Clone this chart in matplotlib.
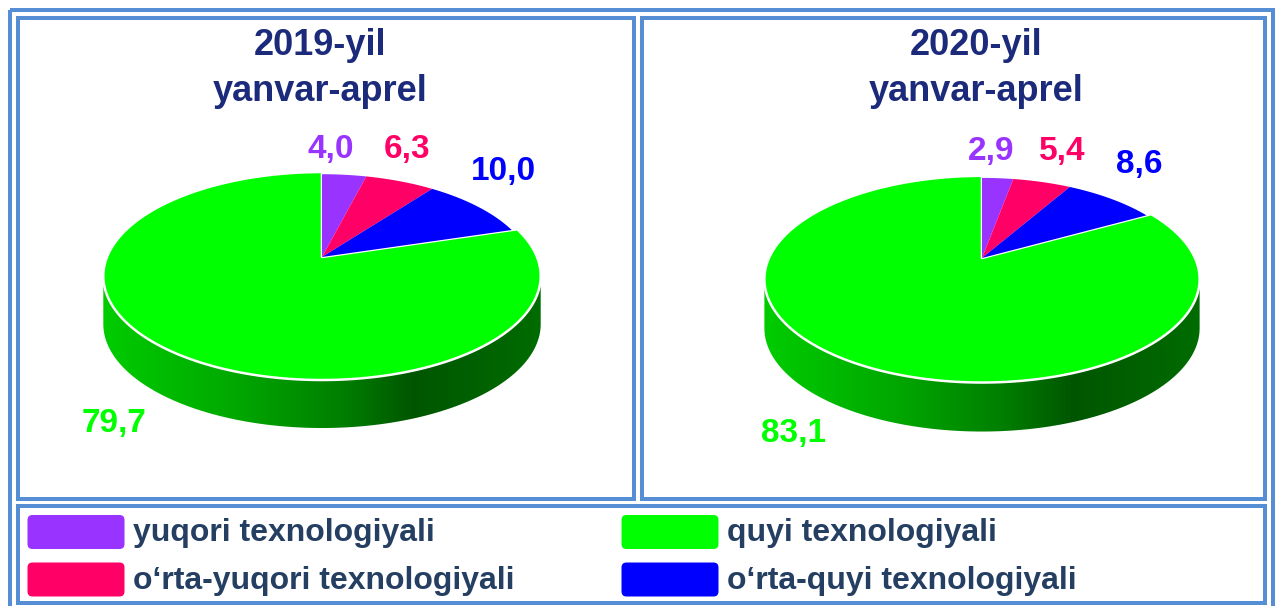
import numpy as np
import matplotlib
matplotlib.use("Agg")
import matplotlib.pyplot as plt
from matplotlib.patches import Rectangle, Polygon, FancyBboxPatch
from matplotlib.colors import LinearSegmentedColormap
from matplotlib import font_manager

# ---------------- data ----------------
categories = ["yuqori texnologiyali", "o‘rta-yuqori texnologiyali",
              "o‘rta-quyi texnologiyali", "quyi texnologiyali"]
values_2019 = [4.0, 6.3, 10.0, 79.7]
values_2020 = [2.9, 5.4, 8.6, 83.1]
labels_2019 = ["4,0", "6,3", "10,0", "79,7"]
labels_2020 = ["2,9", "5,4", "8,6", "83,1"]
titles = ["2019-yil\nyanvar-aprel", "2020-yil\nyanvar-aprel"]
slice_colors = ["#9933FF", "#FF0066", "#0000FF", "#00FF00"]
legend_order = [0, 3, 1, 2]  # (row1: yuqori, quyi) (row2: o'rta-yuqori, o'rta-quyi)

# ---------------- fonts ----------------
avail = {f.name for f in font_manager.fontManager.ttflist}
narrow = "Liberation Sans Narrow" if "Liberation Sans Narrow" in avail else "Liberation Sans"
main_font = "Liberation Sans" if "Liberation Sans" in avail else "DejaVu Sans"

W, H = 1275, 606
fig = plt.figure(figsize=(W / 100, H / 100), dpi=100)
ax = fig.add_axes([0, 0, 1, 1])
ax.set_xlim(0, W)
ax.set_ylim(H, 0)
ax.axis("off")

border_c = "#558ED5"
lw = 4 * 72 / 100


def frame(x0, y0, x1, y1):
    ax.add_patch(Rectangle((x0, y0), x1 - x0, y1 - y0, fill=False,
                           edgecolor=border_c, linewidth=lw, zorder=1))


frame(10, 10, 1273, 609)
frame(18, 17.5, 634, 499)
frame(642, 17.5, 1265, 499)
frame(18, 506, 1265, 603)

side_cmap = LinearSegmentedColormap.from_list(
    "side", [(0.0, "#00CC00"), (0.3, "#00A800"), (0.55, "#007E00"),
             (0.71, "#005600"), (1.0, "#006C00")])


def draw_pie(cx, cy, vals, k, B, A, depth, small_r=0.97):
    def proj(theta, r=1.0):
        u = r * np.sin(theta)
        v = -r * np.cos(theta)
        w = 1 - k * v
        return cx + A * u / w, cy + B * v / w

    # side (extrusion)
    th = np.linspace(0, 2 * np.pi, 2000)
    X, Y = proj(th)
    ir, il = np.argmax(X), np.argmin(X)
    arc_t = th[ir:il + 1]
    ax_, ay_ = proj(arc_t)
    px = np.concatenate([ax_, ax_[::-1]])
    py = np.concatenate([ay_, ay_[::-1] + depth])
    side = Polygon(np.column_stack([px, py]), closed=True, facecolor="none",
                   edgecolor="none", zorder=2)
    ax.add_patch(side)
    grad = np.linspace(0, 1, 256).reshape(1, -1)
    im = ax.imshow(grad, cmap=side_cmap, aspect="auto",
                   extent=[X.min(), X.max(), ay_.max() + depth + 2, Y.min()],
                   zorder=2, interpolation="bilinear")
    im.set_clip_path(side)

    # top wedges
    total = float(sum(vals))
    start = 0.0
    for i, val in enumerate(vals):
        ang = val / total * 2 * np.pi
        t = np.linspace(start, start + ang, 300)
        big = (i == len(vals) - 1)
        r = 1.0 if big else small_r
        wx, wy = proj(t, r)
        poly = np.column_stack([np.concatenate([[cx], wx, [cx]]),
                                np.concatenate([[cy], wy, [cy]])])
        ax.add_patch(Polygon(poly, closed=True, facecolor=slice_colors[i],
                             edgecolor="white" if big else "none",
                             linewidth=1.8 if big else 0, joinstyle="round",
                             zorder=3 if not big else 2.5))
        start += ang


draw_pie(322, 257, values_2019, k=0.183, B=100.5, A=215, depth=48)
draw_pie(982, 258, values_2020, k=0.205, B=99, A=213, depth=49)

# titles
title_c = "#1B2A7A"
for cxt, t in zip([320, 976], titles):
    l1, l2 = t.split("\n")
    ax.text(cxt, 55, l1, ha="center", va="baseline", fontsize=26,
            fontweight="bold", color=title_c, family=main_font)
    ax.text(cxt, 101, l2, ha="center", va="baseline", fontsize=26,
            fontweight="bold", color=title_c, family=main_font)

# value labels
label_xy_2019 = [(331, 158), (407, 158), (503, 180), (114, 432)]
label_xy_2020 = [(991, 160), (1062, 160), (1139, 173), (794, 442)]
for labs, pos in [(labels_2019, label_xy_2019), (labels_2020, label_xy_2020)]:
    for i, (lab, (x, y)) in enumerate(zip(labs, pos)):
        ax.text(x, y, lab, ha="center", va="baseline", fontsize=24,
                fontweight="bold", color=slice_colors[i], family=narrow)

# legend
leg_txt_c = "#243F62"
cols_x = [27.5, 621.5]
rows_y = [515, 562.5]
for j, idx in enumerate(legend_order):
    col, row = j % 2, j // 2
    x0, y0 = cols_x[col], rows_y[row]
    ax.add_patch(FancyBboxPatch((x0 + 3, y0 + 3), 97 - 6, 34 - 6,
                                boxstyle="round,pad=3,rounding_size=5",
                                facecolor=slice_colors[idx], edgecolor="none",
                                zorder=3))
    ax.text(x0 + 105.5, y0 + 26, categories[idx], ha="left", va="baseline",
            fontsize=23, fontweight="bold", color=leg_txt_c, family=main_font)

fig.savefig("out.png", dpi=100)
